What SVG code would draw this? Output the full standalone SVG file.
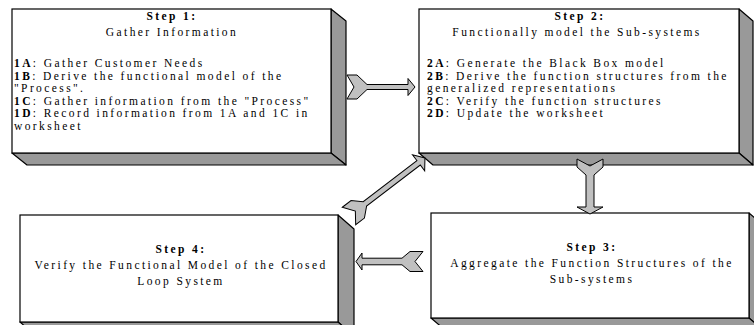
<svg xmlns="http://www.w3.org/2000/svg" width="754" height="325" viewBox="0 0 754 325">
<style>
.front{fill:#ffffff;stroke:#000;stroke-width:1.2}
.face{fill:#999999;stroke:#000;stroke-width:1.2;stroke-linejoin:round}
.arr{fill:#c0c0c0;stroke:#000;stroke-width:1;stroke-linejoin:miter}
text{font-family:"Liberation Serif","Times New Roman",serif;font-size:11.5px;letter-spacing:2.4px;fill:#000}
.c{text-anchor:middle}
.b{font-weight:bold}
</style>
<rect width="754" height="325" fill="#fff"/>
<g id="step1">
<polygon class="face" points="331,9 346,21 346,165 331,153"/>
<polygon class="face" points="12,153 331,153 346,165 27,165"/>
<rect class="front" x="12" y="9" width="319" height="144"/>
<text class="c b" x="172" y="20">Step 1:</text>
<text class="c" x="172" y="36">Gather Information</text>
<text x="14" y="67"><tspan class="b">1A</tspan>: Gather Customer Needs</text>
<text x="14" y="79.5"><tspan class="b">1B</tspan>: Derive the functional model of the</text>
<text x="14" y="92">"Process".</text>
<text x="14" y="104.5"><tspan class="b">1C</tspan>: Gather information from the "Process"</text>
<text x="14" y="117"><tspan class="b">1D</tspan>: Record information from 1A and 1C in</text>
<text x="14" y="129.5">worksheet</text>
</g>
<g id="step2">
<polygon class="face" points="739,9 753,21 753,165 739,153"/>
<polygon class="face" points="419,153 739,153 753,165 433,165"/>
<rect class="front" x="419" y="9" width="320" height="144"/>
<text class="c b" x="580" y="20">Step 2:</text>
<text class="c" x="577" y="36">Functionally model the Sub-systems</text>
<text x="427" y="67"><tspan class="b">2A</tspan>: Generate the Black Box model</text>
<text x="427" y="79.5"><tspan class="b">2B</tspan>: Derive the function structures from the</text>
<text x="427" y="92">generalized representations</text>
<text x="427" y="104.5"><tspan class="b">2C</tspan>: Verify the function structures</text>
<text x="427" y="117"><tspan class="b">2D</tspan>: Update the worksheet</text>
</g>
<g id="step3">
<polygon class="face" points="749,213 763,225 763,330 749,318"/>
<polygon class="face" points="431,318 749,318 763,330 445,330"/>
<rect class="front" x="431" y="213" width="318" height="105"/>
<text class="c b" x="592" y="251">Step 3:</text>
<text class="c" x="592" y="267">Aggregate the Function Structures of the</text>
<text class="c" x="592" y="283">Sub-systems</text>
</g>
<g id="step4">
<polygon class="face" points="338,215 354,229 354,336 338,322"/>
<polygon class="face" points="20,322 338,322 354,336 36,336"/>
<rect class="front" x="20" y="215" width="318" height="107"/>
<text class="c b" x="181" y="253">Step 4:</text>
<text class="c" x="181" y="269">Verify the Functional Model of the Closed</text>
<text class="c" x="181" y="285">Loop System</text>
</g>
<g id="connectors">
<polygon class="arr" points="347,75 357,75 367,84.5 408,84.5 408,78.5 415,87 408,95.5 408,89.5 367,89.5 357,99 347,99 354,87"/>
<polygon class="arr" points="577,159 577,167 586,175 586,207 577,207 590,214 603,207 594,207 594,175 603,167 603,159 590,166"/>
<polygon class="arr" points="356,261.5 362,253 362,258.2 402,258.2 410,251.5 423,251.5 415,261.5 423,271.5 410,271.5 402,264.8 362,264.8 362,270"/>
<polygon class="arr" transform="translate(349,216) rotate(-37.4)" points="0,-11 11,-11 20,-2.8 87.6,-2.8 87.6,-10 95.6,0 87.6,10 87.6,2.8 20,2.8 11,11 0,11 8,0"/>
</g>
</svg>
